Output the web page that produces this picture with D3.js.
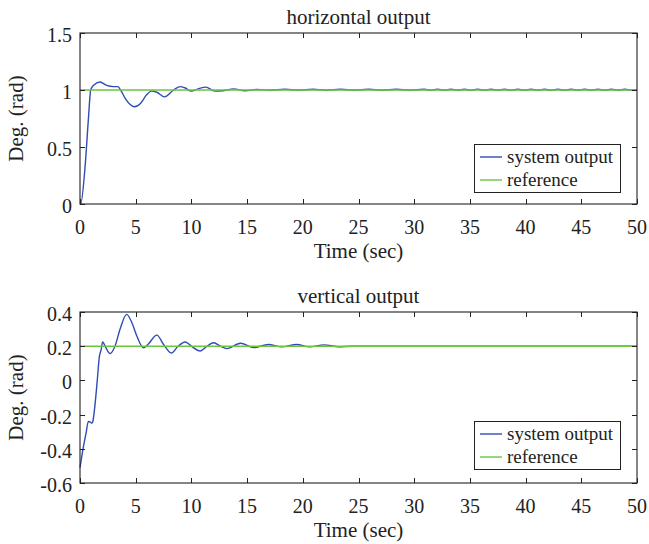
<!DOCTYPE html>
<html>
<head>
<meta charset="utf-8">
<script src="https://cdn.jsdelivr.net/npm/d3@7"></script>
<style>
  html, body { margin: 0; padding: 0; background: #fff; }
  svg { display: block; }
  text { font-family: "Liberation Serif", "Times New Roman", serif; fill: #222; }
</style>
</head>
<body>
<svg id="chart" width="649" height="544"></svg>
<script>
// Horizontal channel: time (s) and measured angle (rad)
const hTime = [0, 0.06, 0.45, 0.75, 0.96, 1.2, 1.8, 2.4, 3.0, 3.4, 3.7, 4.1, 4.9, 5.4, 6.0, 6.4, 6.9, 7.6, 8.4, 9.0, 9.4, 10.0, 10.6, 11.3, 12.1, 12.8, 13.8, 14.8, 15.9,
  17.1, 18.4, 19.6, 20.9, 22.1, 23.4, 24.6, 25.9, 27.1, 28.4, 29.6, 30.9,
  31.5, 32.1, 32.7, 33.3, 33.9, 34.5, 35.1, 35.7, 36.3, 36.9, 37.5, 38.1, 38.7, 39.3, 39.9, 40.5, 41.1, 41.7, 42.3, 42.9,
  43.5, 44.1, 44.7, 45.3, 45.9, 46.5, 47.1, 47.7, 48.3, 48.9, 49.5, 50];
const hOutput = [0, 0, 0.32, 0.74, 1.0, 1.04, 1.07, 1.04, 1.03, 1.03, 0.99, 0.92, 0.853, 0.88, 0.96, 0.99, 0.98, 0.94, 1.0, 1.03, 1.02, 0.99, 1.01, 1.025, 0.99, 0.993, 1.01, 0.993, 1.005,
  0.998, 1.006, 0.998, 1.006, 0.998, 1.006, 0.998, 1.006, 0.998, 1.006, 0.998, 1.006,
  0.998, 1.006, 0.998, 1.006, 0.998, 1.006, 0.998, 1.006, 0.998, 1.006, 0.998, 1.006, 0.998, 1.006, 0.998, 1.006, 0.998, 1.006, 0.998, 1.006,
  0.998, 1.006, 0.998, 1.006, 0.998, 1.006, 0.998, 1.006, 0.998, 1.006, 0.998, 1.002];
const hReference = 1;

// Vertical channel
const vTime = [0, 0.3, 0.54, 0.75, 0.96, 1.05, 1.15, 1.35, 1.55, 1.74, 1.9, 2.03, 2.33, 2.7, 3.14, 3.6, 4.19, 4.64, 5.1, 5.7, 6.1, 6.9, 7.5, 8.2, 8.8, 9.45, 10.0, 10.8, 11.4, 12.0, 12.6, 13.2, 14.4, 15.6, 16.9, 18.1, 19.45, 20.6, 21.9, 23.2, 24.5, 27, 30, 35, 40, 45, 50];
const vOutput = [-0.51, -0.39, -0.31, -0.24, -0.245, -0.25, -0.24, -0.14, 0.0, 0.14, 0.18, 0.225, 0.19, 0.157, 0.2, 0.30, 0.386, 0.34, 0.26, 0.19, 0.21, 0.265, 0.21, 0.16, 0.2, 0.225, 0.2, 0.172, 0.2, 0.22, 0.2, 0.186, 0.217, 0.192, 0.21, 0.196, 0.21, 0.196, 0.208, 0.197, 0.2, 0.2, 0.2, 0.2, 0.2, 0.2, 0.2];
const vReference = 0.2;

// Axis ticks and labels
const xTicks = [0, 5, 10, 15, 20, 25, 30, 35, 40, 45, 50];
const hYTicks = [0, 0.5, 1, 1.5];
const vYTicks = [-0.6, -0.4, -0.2, 0, 0.2, 0.4];
const titles = ["horizontal output", "vertical output"];
const xLabel = "Time (sec)";
const yLabel = "Deg. (rad)";
const seriesNames = ["system output", "reference"];

const blue = "#2f4db3";
const green = "#6cc63f";

const svg = d3.select("#chart");

function panel(cfg) {
  const { left, right, top, bottom, yDomain, yTicks, time, values, ref, title, legendTop } = cfg;
  const x = d3.scaleLinear().domain([0, 50]).range([left, right]);
  const y = d3.scaleLinear().domain(yDomain).range([bottom, top]);
  const g = svg.append("g");

  const tickLen = 5;
  const fmt = d => d3.format("")(d).replace("−", "-");

  // data lines
  const line = d3.line().x(d => x(d[0])).y(d => y(d[1])).curve(d3.curveMonotoneX);
  g.append("path")
    .datum(time.map((t, i) => [t, values[i]]))
    .attr("d", line)
    .attr("fill", "none")
    .attr("stroke", blue)
    .attr("stroke-width", 1.4);
  g.append("path")
    .datum([[0, ref], [50, ref]])
    .attr("d", line)
    .attr("fill", "none")
    .attr("stroke", green)
    .attr("stroke-width", 1.6);

  // box
  g.append("rect")
    .attr("x", left).attr("y", top)
    .attr("width", right - left).attr("height", bottom - top)
    .attr("fill", "none").attr("stroke", "#222").attr("stroke-width", 1.1);

  // x ticks (bottom and top, inward)
  xTicks.forEach(t => {
    const xp = Math.round(x(t)) + 0.5;
    g.append("line").attr("x1", xp).attr("x2", xp).attr("y1", bottom).attr("y2", bottom - tickLen).attr("stroke", "#222");
    g.append("line").attr("x1", xp).attr("x2", xp).attr("y1", top).attr("y2", top + tickLen).attr("stroke", "#222");
    g.append("text").attr("x", x(t)).attr("y", bottom + 30)
      .attr("text-anchor", "middle").attr("font-size", 20).text(fmt(t));
  });
  // y ticks (left and right, inward)
  yTicks.forEach(v => {
    const yp = Math.round(y(v)) + 0.5;
    g.append("line").attr("x1", left).attr("x2", left + tickLen).attr("y1", yp).attr("y2", yp).attr("stroke", "#222");
    g.append("line").attr("x1", right).attr("x2", right - tickLen).attr("y1", yp).attr("y2", yp).attr("stroke", "#222");
    g.append("text").attr("x", left - 8).attr("y", y(v) + 9)
      .attr("text-anchor", "end").attr("font-size", 20).text(fmt(v));
  });

  // title and axis labels
  g.append("text").attr("x", (left + right) / 2).attr("y", top - 9)
    .attr("text-anchor", "middle").attr("font-size", 21).text(title);
  g.append("text").attr("x", (left + right) / 2).attr("y", bottom + 54)
    .attr("text-anchor", "middle").attr("font-size", 21).text(xLabel);
  g.append("text")
    .attr("transform", `translate(23,${(top + bottom) / 2}) rotate(-90)`)
    .attr("text-anchor", "middle").attr("font-size", 21).text(yLabel);

  // legend
  const lg = g.append("g");
  lg.append("rect").attr("x", 474.5).attr("y", legendTop + 0.5).attr("width", 146).attr("height", 48)
    .attr("fill", "#fff").attr("stroke", "#222").attr("stroke-width", 1);
  [blue, green].forEach((c, i) => {
    const cy = legendTop + 13 + i * 23;
    lg.append("line").attr("x1", 480).attr("x2", 502).attr("y1", cy).attr("y2", cy)
      .attr("stroke", c).attr("stroke-width", 1.4);
    lg.append("text").attr("x", 507).attr("y", cy + 6).attr("font-size", 19).text(seriesNames[i]);
  });
}

panel({ left: 80, right: 637, top: 33, bottom: 204, yDomain: [0, 1.5], yTicks: hYTicks,
  time: hTime, values: hOutput, ref: hReference, title: titles[0], legendTop: 144 });
panel({ left: 80, right: 637, top: 312, bottom: 483, yDomain: [-0.6, 0.4], yTicks: vYTicks,
  time: vTime, values: vOutput, ref: vReference, title: titles[1], legendTop: 421 });
</script>
</body>
</html>
